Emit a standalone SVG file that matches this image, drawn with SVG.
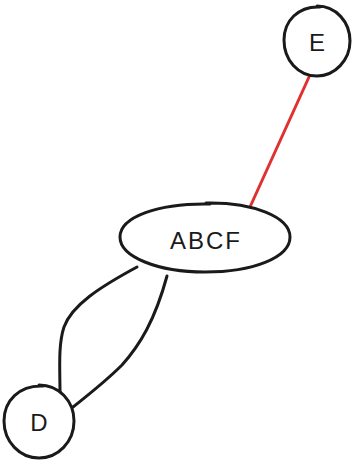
<svg xmlns="http://www.w3.org/2000/svg" width="354" height="462" viewBox="0 0 354 462">
  <style>
    .shape { fill: #ffffff; stroke: #1a1a1a; stroke-width: 3; stroke-linecap: round; }
    .edge { fill: none; stroke: #1a1a1a; stroke-width: 3; stroke-linecap: round; }
    .edge.hot { stroke: #e03131; }
    .label { font-family: "Comic Sans MS", "Liberation Sans", sans-serif; font-size: 24px; fill: #1a1a1a; text-anchor: middle; dominant-baseline: central; letter-spacing: 2px; }
  </style>
  <rect width="354" height="462" fill="#ffffff"/>
  <g id="connectors">
    <path class="edge hot" d="M309 77 L250 207"/>
    <path class="edge" d="M137 267 C100 287 72 305 64 327 C58 345 60 370 60 393"/>
    <path class="edge" d="M167 276 C155 320 140 345 122 365 C105 382 88 395 73 407"/>
  </g>
  <g id="node-E">
    <path class="shape" d="M317 6 C336 6 350 22 350 41 C350 60 335 76 317 76 C298 76 284 60 284 40 C284 21 298 6 320 7"/>
    <text class="label" x="318" y="42">E</text>
  </g>
  <g id="node-ABCF">
    <path class="shape" d="M206 203 C253 202 290 217 290 237 C290 258 252 272 205 272 C158 272 120 257 120 237 C120 217 158 203 210 204"/>
    <text class="label" x="206" y="240">ABCF</text>
  </g>
  <g id="node-D">
    <path class="shape" d="M39 385 C59 385 74 401 74 421 C74 442 58 458 39 458 C20 458 4 442 4 421 C4 401 19 385 43 386"/>
    <text class="label" x="40" y="422">D</text>
  </g>
</svg>
